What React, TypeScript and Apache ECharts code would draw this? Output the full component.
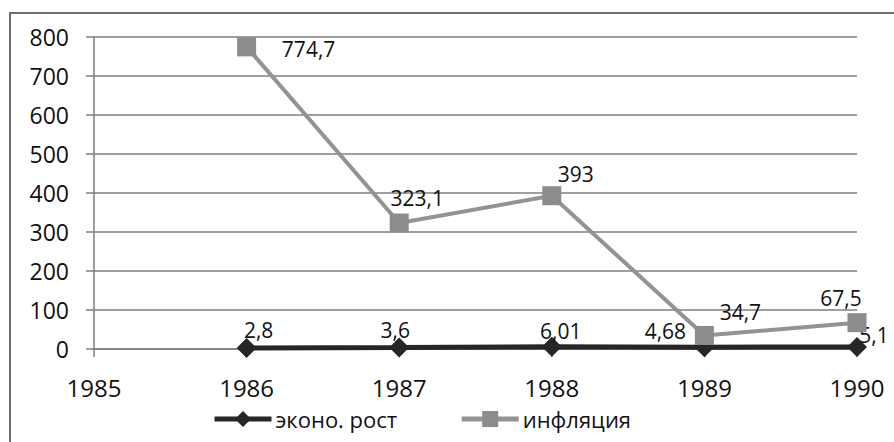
import React, { useEffect, useRef } from "react";
import * as echarts from "echarts";

const years = ["1985", "1986", "1987", "1988", "1989", "1990"];
const growth: (number | null)[] = [null, 2.8, 3.6, 6.01, 4.68, 5.1];
const inflation: (number | null)[] = [null, 774.7, 323.1, 393, 34.7, 67.5];
const growthName = "эконо. рост";
const inflationName = "инфляция";

// label placement (offset of label centre from point), styling only
const growthLabelOffsets: number[][] = [[0, 0], [12, -18], [-4, -18], [9, -16], [-39, -16], [17, -12]];
const inflationLabelOffsets: number[][] = [[0, 0], [62, 2], [18, -25], [24, -22], [36, -23], [-16, -25]];

const FONT = "Open Sans";

const fmt = (v: number) => String(v).replace(".", ",");

function buildData(values: (number | null)[], offsets: number[][]) {
  return values.map((v, i) =>
    v === null
      ? null
      : {
          value: v,
          label: {
            show: true,
            position: "inside",
            offset: offsets[i],
            formatter: fmt(v),
            color: "#111",
            fontSize: 21,
            fontFamily: FONT,
          },
        }
  );
}

export default function App() {
  const ref = useRef<HTMLDivElement>(null);
  useEffect(() => {
    document.body.style.margin = "0";
    const chart = echarts.init(ref.current!, undefined, { renderer: "svg" });
    chart.setOption({
      animation: false,
      backgroundColor: "#ffffff",
      graphic: [
        {
          type: "rect",
          shape: { x: 10, y: 13, width: 900, height: 450 },
          style: { fill: "none", stroke: "#6e6e6e", lineWidth: 2 },
          silent: true,
          z: 0,
        },
      ],
      grid: { left: 94, right: 37, top: 37, bottom: 93, containLabel: false },
      legend: {
        left: 207,
        top: 403,
        itemWidth: 57,
        itemHeight: 20,
        itemGap: 62,
        textStyle: { fontFamily: FONT, fontSize: 22, color: "#111", padding: [0, 0, 0, -1] },
        data: [
          { name: growthName, lineStyle: { width: 5, color: "#262626" } },
          { name: inflationName, lineStyle: { width: 5, color: "#939393" } },
        ],
      },
      xAxis: {
        type: "category",
        data: years,
        boundaryGap: false,
        axisLine: { show: true, lineStyle: { color: "#7f7f7f", width: 1.5 } },
        axisTick: { show: true, length: 8, lineStyle: { color: "#7f7f7f", width: 1.5 } },
        axisLabel: { fontFamily: FONT, fontSize: 24, color: "#111", margin: 26 },
      },
      yAxis: {
        type: "value",
        min: 0,
        max: 800,
        interval: 100,
        axisLine: { show: true, lineStyle: { color: "#7f7f7f", width: 1.5 } },
        axisTick: { show: true, length: 8, lineStyle: { color: "#7f7f7f", width: 1.5 } },
        splitLine: { show: true, lineStyle: { color: "#7f7f7f", width: 1.5 } },
        axisLabel: { fontFamily: FONT, fontSize: 23, color: "#111", margin: 25 },
      },
      series: [
        {
          name: growthName,
          type: "line",
          data: buildData(growth, growthLabelOffsets),
          symbol: "diamond",
          symbolSize: 20,
          showAllSymbol: true,
          lineStyle: { color: "#262626", width: 5 },
          itemStyle: { color: "#262626" },
          z: 3,
        },
        {
          name: inflationName,
          type: "line",
          data: buildData(inflation, inflationLabelOffsets),
          symbol: "rect",
          symbolSize: 19,
          showAllSymbol: true,
          lineStyle: { color: "#939393", width: 4 },
          itemStyle: { color: "#8c8c8c" },
          z: 4,
        },
      ],
    });
    return () => chart.dispose();
  }, []);
  return <div ref={ref} style={{ width: 894, height: 442 }} />;
}
